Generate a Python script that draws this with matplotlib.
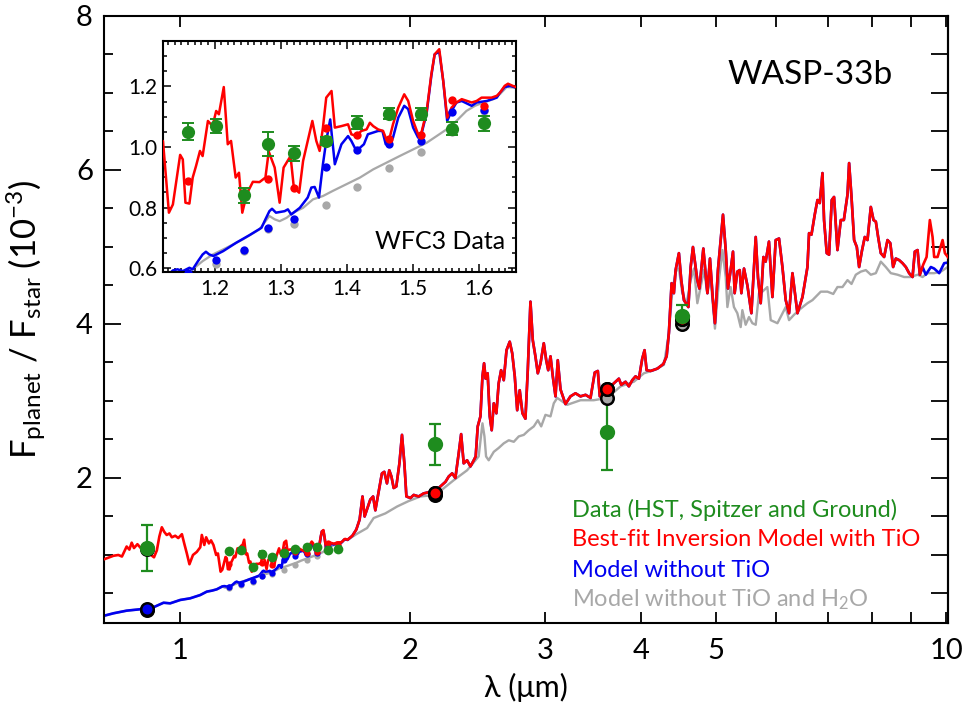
import numpy as np
import matplotlib
matplotlib.use('Agg')
import matplotlib.pyplot as plt
from matplotlib.ticker import MultipleLocator, NullLocator, FormatStrFormatter

plt.rcParams['font.family'] = ['Lato', 'DejaVu Sans']
plt.rcParams['mathtext.fontset'] = 'custom'
plt.rcParams['mathtext.rm'] = 'Lato'
plt.rcParams['mathtext.it'] = 'Lato:italic'
plt.rcParams['mathtext.default'] = 'regular'

RED = '#ff0000'
BLUE = '#0000f0'
GRAY = '#a8a8a8'
GREEN = '#1e8c1e'

# ---- model spectra (wavelength in micron, Fp/Fs in 1e-3) ----
# best-fit inversion model with TiO, 0.8 - 1.12 um
red_vis_wl = [0.795, 0.820, 0.832, 0.841, 0.853, 0.860, 0.866, 0.872, 0.881, 0.890,
              0.900, 0.912, 0.926, 0.934, 0.941, 0.948, 0.955, 0.962, 0.970, 0.977,
              0.987, 0.996, 1.007, 1.014, 1.022, 1.030, 1.041, 1.053, 1.064, 1.069,
              1.077, 1.083, 1.092, 1.099, 1.107, 1.116]
red_vis_f = [0.94, 0.99, 1.00, 0.98, 1.11, 1.07, 1.16, 1.09, 1.14, 1.09,
             1.05, 1.02, 0.97, 1.06, 1.24, 1.36, 1.30, 1.26, 1.28, 1.23,
             1.25, 1.22, 1.27, 1.15, 1.02, 0.88, 1.00, 1.04, 1.10, 1.26,
             1.13, 1.23, 1.15, 1.19, 1.13, 1.00]

# WFC3 range
red_wfc3_wl = [1.122, 1.131, 1.137, 1.148, 1.152, 1.156, 1.162, 1.167, 1.172, 1.178,
               1.182, 1.190, 1.197, 1.2025, 1.2066, 1.214, 1.220, 1.225, 1.232, 1.237,
               1.242, 1.249, 1.258, 1.268, 1.277, 1.282, 1.291, 1.2985, 1.3045, 1.315,
               1.320, 1.328, 1.334, 1.341, 1.348, 1.354, 1.359, 1.364, 1.369, 1.377,
               1.382, 1.392, 1.402, 1.407, 1.4146, 1.422, 1.430, 1.435, 1.440, 1.4475,
               1.455, 1.460, 1.465, 1.470, 1.478, 1.487, 1.493, 1.5005, 1.508, 1.513,
               1.521, 1.528, 1.533, 1.540, 1.546, 1.552, 1.5586, 1.566, 1.574, 1.589,
               1.5965, 1.604, 1.619, 1.627, 1.632, 1.639, 1.644, 1.651, 1.656]
red_wfc3_f = [1.020, 0.783, 0.810, 0.974, 0.959, 0.816, 0.813, 0.899, 0.937, 0.987,
              0.970, 1.086, 1.069, 1.119, 1.108, 1.198, 1.009, 1.020, 0.899, 0.915,
              0.783, 0.846, 0.885, 0.884, 0.899, 0.985, 0.932, 0.816, 0.932, 0.970,
              0.866, 0.849, 0.954, 1.020, 1.086, 1.020, 0.987, 1.064, 1.163, 1.185,
              1.064, 1.069, 1.075, 1.042, 1.036, 1.053, 1.058, 1.080, 1.069, 1.058,
              1.053, 1.025, 1.031, 1.075, 1.130, 1.174, 1.152, 1.086, 1.042, 1.047,
              1.119, 1.240, 1.306, 1.323, 1.218, 1.097, 1.130, 1.147, 1.158, 1.147,
              1.152, 1.163, 1.163, 1.169, 1.180, 1.202, 1.209, 1.202, 1.198]

red_nir_wl = [1.68, 1.70, 1.717, 1.732, 1.743, 1.773, 1.788, 1.800, 1.836, 1.849,
              1.864, 1.877, 1.889, 1.902, 1.917, 1.935, 1.950, 1.964, 1.976, 2.000,
              2.020, 2.050, 2.081, 2.124, 2.156, 2.188, 2.222, 2.244, 2.267, 2.289,
              2.312, 2.329, 2.347, 2.371, 2.395, 2.419, 2.433, 2.448, 2.468, 2.483,
              2.495, 2.507, 2.522, 2.538, 2.553, 2.569, 2.589, 2.607, 2.626, 2.647,
              2.669, 2.695, 2.715, 2.736, 2.756, 2.777, 2.800, 2.825, 2.845, 2.868,
              2.888, 2.911, 2.932, 2.956, 2.985, 3.007, 3.025, 3.046, 3.067, 3.092,
              3.113, 3.139]
red_nir_f = [1.25, 1.33, 1.46, 1.76, 1.50, 1.72, 1.76, 1.58, 2.06, 2.08,
             1.93, 2.10, 2.02, 1.87, 1.89, 2.19, 2.56, 2.19, 1.76, 1.74,
             1.78, 1.76, 1.80, 1.82, 1.82, 1.89, 1.95, 2.02, 2.06, 2.00,
             2.32, 2.57, 2.19, 2.23, 2.15, 2.23, 2.28, 2.67, 2.80, 3.32,
             3.49, 3.29, 3.36, 2.80, 2.62, 2.97, 2.84, 3.23, 3.40, 3.27,
             3.66, 3.77, 3.62, 3.32, 2.88, 3.14, 2.84, 2.77, 3.40, 4.29,
             3.79, 3.58, 3.36, 3.49, 3.75, 3.53, 3.40, 3.58, 3.32, 3.06,
             3.53, 3.15]

red_mir_wl = [3.186, 3.234, 3.283, 3.333, 3.384, 3.435, 3.479, 3.511, 3.532, 3.568,
              3.612, 3.648, 3.703, 3.740, 3.767, 3.816, 3.854, 3.893, 3.932, 3.972,
              4.012, 4.040, 4.065, 4.114, 4.198, 4.274, 4.317, 4.346, 4.382, 4.412,
              4.435, 4.479, 4.511, 4.547, 4.608, 4.640, 4.672, 4.734, 4.763, 4.820,
              4.879, 4.917, 4.957, 4.991, 5.036, 5.077, 5.113, 5.155, 5.190, 5.232,
              5.269, 5.295, 5.338, 5.376, 5.403, 5.446, 5.502, 5.568, 5.641, 5.680,
              5.726, 5.773, 5.812, 5.870, 5.931, 5.990, 6.050, 6.112, 6.173, 6.235,
              6.299, 6.394, 6.491, 6.589, 6.621, 6.669, 6.735, 6.790, 6.837, 6.893,
              6.926, 6.982, 7.031, 7.088, 7.137, 7.210, 7.283, 7.350, 7.431, 7.467,
              7.521, 7.580, 7.642, 7.695, 7.760, 7.827, 7.891, 7.970, 8.035, 8.091,
              8.147, 8.213, 8.295, 8.380, 8.450, 8.522, 8.592, 8.677, 8.766, 8.854,
              8.942, 9.034, 9.096, 9.171, 9.234, 9.327, 9.423, 9.516, 9.594, 9.640,
              9.739, 9.887, 9.956, 10.08]
red_mir_f = [2.96, 3.06, 3.10, 3.06, 3.08, 3.04, 3.37, 3.39, 3.06, 3.11,
             3.14, 3.19, 3.25, 3.29, 3.21, 3.25, 3.19, 3.27, 3.32, 3.29,
             3.55, 3.66, 3.40, 3.39, 3.42, 3.48, 3.58, 3.88, 4.53, 4.40,
             4.70, 4.92, 4.57, 4.31, 4.22, 4.74, 5.00, 4.57, 4.46, 4.98,
             4.40, 4.85, 4.35, 4.01, 4.70, 5.09, 5.42, 4.96, 4.46, 4.70,
             4.94, 4.40, 4.68, 4.70, 4.40, 4.72, 4.50, 4.14, 5.13, 4.60,
             4.27, 4.87, 4.81, 5.07, 4.35, 5.09, 5.11, 4.74, 4.31, 4.14,
             4.66, 4.14, 4.35, 4.74, 5.18, 5.16, 5.42, 5.61, 5.57, 5.96,
             5.35, 4.92, 4.90, 5.61, 5.65, 4.96, 5.35, 5.35, 5.68, 6.09,
             5.65, 5.09, 5.00, 4.74, 4.95, 5.13, 5.09, 5.52, 5.35, 5.33,
             5.13, 4.92, 4.87, 5.09, 5.05, 4.74, 4.85, 4.83, 4.79, 4.74,
             4.66, 4.61, 4.94, 4.96, 4.64, 4.77, 4.87, 5.35, 5.13, 4.87,
             4.87, 5.09, 4.92, 4.85]

# model without TiO: own values short of 1.66 um and past 9.25 um, same as red between
blue_short_wl = [0.795, 0.820, 0.853, 0.888, 0.924, 0.953, 0.972, 1.002, 1.032, 1.064,
                 1.085, 1.102, 1.118, 1.137, 1.144, 1.152, 1.162, 1.167, 1.175, 1.182,
                 1.187, 1.192, 1.1985, 1.213, 1.233, 1.253, 1.271, 1.277, 1.283, 1.287,
                 1.293, 1.306, 1.311, 1.316, 1.329, 1.341, 1.3465, 1.3515, 1.358, 1.364,
                 1.369, 1.375, 1.382, 1.392, 1.402, 1.407, 1.4146, 1.426, 1.432, 1.4475,
                 1.454, 1.459, 1.465, 1.470, 1.478, 1.487, 1.493, 1.5005, 1.508, 1.513,
                 1.521, 1.528, 1.533, 1.540, 1.546, 1.552, 1.5586, 1.566, 1.574, 1.589,
                 1.5965, 1.612, 1.627, 1.632, 1.639, 1.647, 1.656]
blue_short_f = [0.208, 0.243, 0.277, 0.295, 0.320, 0.380, 0.372, 0.416, 0.437, 0.480,
                0.524, 0.537, 0.554, 0.592, 0.596, 0.590, 0.601, 0.596, 0.623, 0.645,
                0.654, 0.645, 0.640, 0.656, 0.684, 0.709, 0.733, 0.761, 0.788, 0.796,
                0.783, 0.788, 0.794, 0.777, 0.799, 0.833, 0.866, 0.868, 0.833, 0.943,
                1.020, 1.091, 0.943, 1.009, 1.036, 1.020, 0.987, 1.009, 1.042, 1.053,
                1.053, 1.009, 1.011, 1.031, 1.097, 1.136, 1.125, 1.064, 1.031, 1.042,
                1.113, 1.235, 1.306, 1.315, 1.218, 1.086, 1.119, 1.147, 1.152, 1.136,
                1.147, 1.152, 1.163, 1.180, 1.198, 1.202, 1.196]
blue_long_wl = [9.31, 9.40, 9.545, 9.64, 9.787, 9.935, 10.08]
blue_long_f = [4.74, 4.64, 4.74, 4.72, 4.66, 4.79, 4.80]

# model without TiO and H2O
gray_wfc3_wl = [1.147, 1.167, 1.182, 1.1975, 1.218, 1.243, 1.268, 1.283, 1.291, 1.2985,
                1.309, 1.319, 1.334, 1.349, 1.364, 1.379, 1.3995, 1.420, 1.440, 1.460,
                1.480, 1.5005, 1.521, 1.536, 1.551, 1.566, 1.581, 1.594, 1.607, 1.622,
                1.632, 1.642, 1.656]
gray_wfc3_f = [0.574, 0.596, 0.623, 0.645, 0.667, 0.695, 0.728, 0.772, 0.761, 0.755,
               0.766, 0.783, 0.799, 0.827, 0.838, 0.855, 0.877, 0.899, 0.926, 0.948,
               0.970, 0.992, 1.014, 1.036, 1.058, 1.086, 1.119, 1.136, 1.147, 1.158,
               1.175, 1.198, 1.196]
gray_long_wl = [1.70, 1.756, 1.791, 1.855, 1.922, 1.989, 2.061, 2.156, 2.277, 2.371,
                2.455, 2.483, 2.498, 2.510, 2.530, 2.569, 2.607, 2.647, 2.687, 2.728,
                2.769, 2.811, 2.853, 2.897, 2.932, 2.962, 3.000, 3.046, 3.076, 3.108,
                3.139, 3.202, 3.333, 3.469, 3.612, 3.759, 3.912, 4.032, 4.155, 4.282,
                4.346, 4.391, 4.435, 4.479, 4.525, 4.584, 4.640, 4.686, 4.734, 4.781,
                4.829, 4.879, 4.926, 4.991, 5.051, 5.104, 5.155, 5.181, 5.232, 5.284,
                5.338, 5.392, 5.419, 5.473, 5.528, 5.585, 5.641, 5.697, 5.755, 5.842,
                5.901, 6.021, 6.173, 6.235, 6.329, 6.458, 6.589, 6.689, 6.858, 6.997,
                7.120, 7.210, 7.320, 7.431, 7.521, 7.619, 7.734, 7.851, 7.970, 8.091,
                8.213, 8.337, 8.464, 8.636, 8.808, 8.988, 9.171, 9.310, 9.451, 9.640,
                9.837, 10.04]
gray_long_f = [1.27, 1.35, 1.48, 1.54, 1.63, 1.70, 1.76, 1.78, 1.97, 2.10,
               2.28, 2.71, 2.54, 2.28, 2.23, 2.34, 2.39, 2.45, 2.49, 2.47,
               2.54, 2.56, 2.62, 2.67, 2.75, 2.67, 2.82, 2.80, 2.97, 3.04,
               3.01, 2.95, 3.01, 3.01, 3.04, 3.19, 3.25, 3.36, 3.40, 3.47,
               3.88, 4.42, 4.68, 4.72, 4.40, 4.27, 4.57, 4.72, 4.27, 4.48,
               4.70, 4.40, 4.59, 3.94, 4.57, 4.96, 4.61, 4.22, 4.48, 4.22,
               4.14, 3.96, 4.18, 3.99, 4.09, 4.01, 3.99, 4.40, 4.42, 4.48,
               4.05, 4.01, 4.22, 4.05, 4.12, 4.20, 4.27, 4.31, 4.42, 4.42,
               4.39, 4.48, 4.48, 4.57, 4.52, 4.64, 4.68, 4.70, 4.64, 4.66,
               4.81, 4.74, 4.66, 4.64, 4.61, 4.61, 4.64, 4.61, 4.66, 4.66,
               4.68, 4.74]

# ---- WFC3 data and band-averaged models ----
wfc3_wl = [1.160, 1.202, 1.245, 1.281, 1.320, 1.368, 1.416, 1.464, 1.512, 1.560, 1.607]
wfc3_f = [1.050, 1.069, 0.840, 1.009, 0.979, 1.020, 1.080, 1.110, 1.108, 1.061, 1.078]
wfc3_err = [0.028, 0.024, 0.025, 0.039, 0.024, 0.013, 0.022, 0.019, 0.020, 0.020, 0.025]
wfc3_red = [0.888, 1.070, 0.840, 0.895, 0.866, 1.062, 1.040, 1.025, 1.039, 1.155, 1.137]
wfc3_blue = [0.585, 0.626, 0.660, 0.733, 0.761, 0.935, 0.990, 1.009, 1.020, 1.116, 1.121]
wfc3_gray = [0.575, 0.612, 0.655, 0.728, 0.747, 0.808, 0.869, 0.932, 0.983, 1.050, 1.120]

# ---- photometry (z', Ks, 3.6, 4.5 um) ----
phot_wl = [0.906, 2.156, 3.612, 4.524]
phot_f = [1.095, 2.44, 2.60, 4.11]
phot_err = [0.30, 0.265, 0.50, 0.14]
band_red = [1.08, 1.80, 3.15, 4.06]
band_blue = [0.295, 1.80, 3.15, 4.06]
band_gray = [0.29, 1.78, 3.04, 4.00]


red_wl = np.concatenate([red_vis_wl, red_wfc3_wl, red_nir_wl, red_mir_wl])
red_f = np.concatenate([red_vis_f, red_wfc3_f, red_nir_f, red_mir_f])
mid = (red_wl > 1.66) & (red_wl < 9.25)
blue_wl = np.concatenate([blue_short_wl, red_wl[mid], blue_long_wl])
blue_f = np.concatenate([blue_short_f, red_f[mid], blue_long_f])
short = np.array(blue_short_wl) < 1.14
gray_wl = np.concatenate([np.array(blue_short_wl)[short], gray_wfc3_wl, gray_long_wl])
gray_f = np.concatenate([np.array(blue_short_f)[short], gray_wfc3_f, gray_long_f])


def draw_models(a, lw, dot):
    a.plot(gray_wl, gray_f, color=GRAY, lw=lw * 0.9, zorder=1)
    a.plot(blue_wl, blue_f, color=BLUE, lw=lw, zorder=2)
    a.plot(red_wl, red_f, color=RED, lw=lw, zorder=3)
    for vals, c in ((wfc3_gray, GRAY), (wfc3_blue, BLUE), (wfc3_red, RED)):
        a.plot(wfc3_wl, vals, 'o', color=c, ms=dot, mec='none', zorder=4)


fig = plt.figure(figsize=(9.66, 7.11), dpi=100)

# ---------------- main panel ----------------
ax = fig.add_axes([0.1077, 0.1238, 0.8737, 0.8537])
draw_models(ax, 1.9, 4.5)
ax.errorbar(wfc3_wl, wfc3_f, yerr=wfc3_err, fmt='o', color=GREEN, ms=7, mec='none',
            elinewidth=1.2, capsize=2, capthick=1.2, zorder=6)
ax.errorbar(phot_wl, phot_f, yerr=phot_err, fmt='none', ecolor=GREEN,
            elinewidth=1.6, capsize=4, capthick=1.6, zorder=4.5)
for vals, c in ((band_gray, GRAY), (band_blue, BLUE), (band_red, RED)):
    ax.plot(phot_wl, vals, 'o', mfc=c, mec='k', mew=1.8, ms=9, zorder=5)
ax.plot(phot_wl, phot_f, 'o', color=GREEN, ms=11, mec='none', zorder=6)

ax.set_xscale('log')
ax.set_xlim(0.797, 10.05)
ax.set_ylim(0.117, 8.0)
ax.set_xticks([1, 2, 3, 4, 5, 6, 7, 8, 9, 10])
ax.set_xticklabels(['1', '2', '3', '4', '5', '', '', '', '', '10'])
ax.xaxis.set_minor_locator(NullLocator())
ax.set_yticks([2, 4, 6, 8])
ax.yaxis.set_minor_locator(MultipleLocator(0.5))
ax.tick_params(axis='x', which='major', direction='in', length=8, width=1.3,
               top=True, labelsize=21, pad=11)
ax.tick_params(axis='y', which='major', direction='in', length=12, width=1.3,
               right=False, labelsize=21, pad=8)
ax.tick_params(axis='y', which='minor', direction='in', length=6.5, width=1.3, right=False)
sec = ax.secondary_yaxis('right')
sec.set_yticks(np.arange(0.5, 8.01, 0.5))
sec.tick_params(direction='in', length=12, width=1.3, labelright=False)
sec.spines['right'].set_linewidth(1.5)
for s in ax.spines.values():
    s.set_linewidth(1.5)

ax.set_xlabel('λ (μm)', fontsize=22)
ax.xaxis.set_label_coords(0.5, -0.082)
ax.set_ylabel(r'F$_{\rm planet}$ / F$_{\rm star}$ (10$^{-3}$)', fontsize=25)
ax.yaxis.set_label_coords(-0.066, 0.5)

ax.text(0.8365, 0.903, 'WASP-33b', transform=ax.transAxes, ha='center', va='center',
        fontsize=24)
legend_lines = [('Data (HST, Spitzer and Ground)', GREEN, 0.186),
                ('Best-fit Inversion Model with TiO', RED, 0.137),
                ('Model without TiO', BLUE, 0.086),
                (r'Model without TiO and H$_2$O', GRAY, 0.039)]
for txt, c, yy in legend_lines:
    ax.text(0.5545, yy, txt, color=c, transform=ax.transAxes, ha='left', va='center',
            fontsize=17)

# ---------------- WFC3 inset ----------------
axin = fig.add_axes([0.1687, 0.6174, 0.3654, 0.3249])
draw_models(axin, 1.8, 6)
axin.errorbar(wfc3_wl, wfc3_f, yerr=wfc3_err, fmt='o', color=GREEN, ms=9.5, mec='none',
              elinewidth=1.4, capsize=4, capthick=1.4, zorder=6)
axin.set_xlim(1.122, 1.656)
axin.set_ylim(0.587, 1.35)
axin.xaxis.set_major_locator(MultipleLocator(0.1))
axin.xaxis.set_minor_locator(MultipleLocator(0.01))
axin.yaxis.set_major_locator(MultipleLocator(0.2))
axin.yaxis.set_minor_locator(MultipleLocator(0.05))
axin.xaxis.set_major_formatter(FormatStrFormatter('%.1f'))
axin.yaxis.set_major_formatter(FormatStrFormatter('%.1f'))
axin.tick_params(which='both', direction='in', top=True, right=True, width=1.1,
                 labelsize=15)
axin.tick_params(which='major', length=6)
axin.tick_params(which='minor', length=3)
axin.tick_params(axis='x', pad=5)
axin.tick_params(axis='y', pad=4)
for s in axin.spines.values():
    s.set_linewidth(1.5)
axin.text(0.785, 0.134, 'WFC3 Data', transform=axin.transAxes, ha='center',
          va='center', fontsize=18)

fig.savefig('out.png', dpi=100)
